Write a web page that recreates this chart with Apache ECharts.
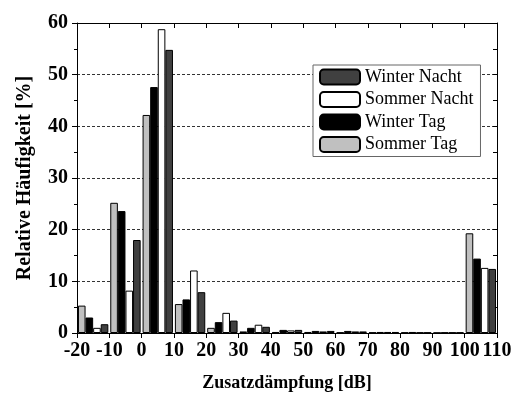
<!DOCTYPE html>
<html>
<head>
<meta charset="utf-8">
<script src="https://cdn.jsdelivr.net/npm/echarts@6/dist/echarts.min.js"></script>
<style>
  html, body { margin: 0; padding: 0; background: #fff; }
  #chart { width: 521px; height: 398px; }
</style>
</head>
<body>
<div id="chart"></div>
<script>
// 10 dB bins, labelled by their lower edge
const binStarts = [-20, -10, 0, 10, 20, 30, 40, 50, 60, 70, 80, 90, 100];
const sommerTag   = [5.3, 25.2, 42.2, 5.6, 1.0, 0.3, 0.2, 0.2, 0.1, 0.1, 0.1, 0.05, 19.3];
const winterTag   = [3.0, 23.6, 47.6, 6.5, 2.1, 1.0, 0.6, 0.4, 0.4, 0.2, 0.2, 0.1, 14.4];
const sommerNacht = [1.0, 8.2, 58.8, 12.1, 3.9, 1.6, 0.5, 0.3, 0.3, 0.2, 0.1, 0.1, 12.6];
const winterNacht = [1.7, 18.0, 54.8, 7.9, 2.4, 1.2, 0.6, 0.4, 0.3, 0.2, 0.1, 0.1, 12.4];
const xTicks = { min: -20, max: 110, step: 10 };
const yTicks = { min: 0, max: 60, step: 10 };

const FONT = '"Liberation Serif", "DejaVu Serif", serif';

const chart = echarts.init(document.getElementById('chart'), null, { renderer: 'canvas' });

function bar(name, data, color) {
    return {
        name: name,
        type: 'bar',
        xAxisIndex: 0,
        yAxisIndex: 0,
        data: data,
        barGap: '0%',
        barCategoryGap: '6%',
        itemStyle: { color: color, borderColor: '#000', borderWidth: 1 },
        emphasis: { disabled: true }
    };
}

const frameLine = { show: true, onZero: false, lineStyle: { color: '#000', width: 1 } };

chart.setOption({
    animation: false,
    backgroundColor: '#fff',
    textStyle: { fontFamily: FONT },
    grid: { left: 77, right: 24, top: 23, bottom: 65, containLabel: false, outerBoundsMode: 'none' },
    legend: {
        orient: 'vertical',
        left: 313,
        top: 65,
        padding: [3, 7, 3, 6],
        itemGap: 4.5,
        itemWidth: 40,
        itemHeight: 15,
        borderColor: '#666',
        borderWidth: 1,
        backgroundColor: '#fff',
        data: ['Winter Nacht', 'Sommer Nacht', 'Winter Tag', 'Sommer Tag'],
        textStyle: { fontFamily: FONT, fontSize: 18, color: '#000' }
    },
    xAxis: [
        {
            type: 'category',
            data: binStarts.map(String),
            show: false
        },
        {
            type: 'value',
            position: 'bottom',
            min: xTicks.min, max: xTicks.max, interval: xTicks.step,
            name: 'Zusatzdämpfung [dB]',
            nameLocation: 'middle',
            nameGap: 41,
            nameTextStyle: { fontFamily: FONT, fontSize: 18, fontWeight: 'bold', color: '#000' },
            axisLine: frameLine,
            axisTick: { show: true, inside: false, length: 5, lineStyle: { color: '#000' } },
            axisLabel: { fontFamily: FONT, fontSize: 20, fontWeight: 'bold', color: '#000', margin: 8, showMinLabel: true, showMaxLabel: true },
            splitLine: { show: false }
        },
        {
            type: 'value',
            position: 'top',
            min: xTicks.min, max: xTicks.max, interval: xTicks.step,
            axisLine: frameLine,
            axisTick: { show: true, inside: true, length: 5, lineStyle: { color: '#000' } },
            axisLabel: { show: false },
            splitLine: { show: false }
        }
    ],
    yAxis: [
        {
            type: 'value',
            position: 'left',
            min: yTicks.min, max: yTicks.max, interval: yTicks.step,
            name: 'Relative Häufigkeit [%]',
            nameLocation: 'middle',
            nameGap: 42,
            nameTextStyle: { fontFamily: FONT, fontSize: 20, fontWeight: 'bold', color: '#000' },
            axisLine: frameLine,
            axisTick: { show: true, inside: false, length: 5, lineStyle: { color: '#000' } },
            minorTick: { show: true, splitNumber: 2, length: 3, lineStyle: { color: '#000' } },
            axisLabel: { fontFamily: FONT, fontSize: 20, fontWeight: 'bold', color: '#000', margin: 9 },
            splitLine: { show: true, lineStyle: { color: '#333', width: 1, type: [3, 2] } }
        },
        {
            type: 'value',
            position: 'right',
            min: yTicks.min, max: yTicks.max, interval: yTicks.step / 2,
            axisLine: frameLine,
            axisTick: { show: true, inside: true, length: 4, lineStyle: { color: '#000' } },
            axisLabel: { show: false },
            splitLine: { show: false }
        }
    ],
    series: [
        bar('Sommer Tag', sommerTag, '#c0c0c0'),
        bar('Winter Tag', winterTag, '#000000'),
        bar('Sommer Nacht', sommerNacht, '#ffffff'),
        bar('Winter Nacht', winterNacht, '#404040')
    ]
});
</script>
</body>
</html>
